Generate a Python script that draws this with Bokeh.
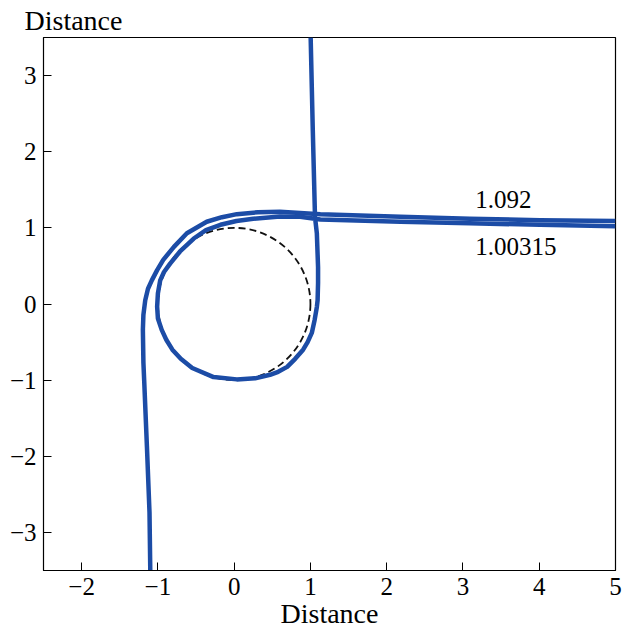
from bokeh.plotting import figure
from bokeh.models import FixedTicker, Label, Range1d
from bokeh.embed import file_html
from bokeh.resources import INLINE

# ---- data ----
x_ticks = [-2, -1, 0, 1, 2, 3, 4, 5]
y_ticks = [-3, -2, -1, 0, 1, 2, 3]
x_tick_labels = ["\u22122", "\u22121", "0", "1", "2", "3", "4", "5"]
y_tick_labels = ["\u22123", "\u22122", "\u22121", "0", "1", "2", "3"]

# trajectory with parameter 1.092 (comes up from below, leaves to the right)
outer_x = [-1.10, -1.11, -1.144, -1.18, -1.19, -1.197, -1.19, -1.166, -1.13, -1.08,
           -1.01, -0.93, -0.79, -0.62, -0.36, -0.16, 0.035, 0.31, 0.60, 1.13,
           2.18, 3.09, 4.01, 5.00]
outer_y = [-3.50, -2.74, -1.87, -1.00, -0.77, -0.34, -0.14, 0.05, 0.20, 0.31,
           0.445, 0.58, 0.75, 0.93, 1.08, 1.14, 1.18, 1.205, 1.21, 1.18,
           1.147, 1.12, 1.10, 1.09]

# trajectory with parameter 1.00315 (comes down from above, wraps the circle)
inner_x = [1.003, 1.031, 1.06, 1.084, 1.10, 1.10, 1.094, 1.084, 1.055, 1.018,
           0.963, 0.904, 0.80, 0.695, 0.577, 0.47, 0.275, 0.035, -0.27, -0.55,
           -0.70, -0.81, -0.89, -0.95, -1.00, -1.01, -1.00, -0.97, -0.92, -0.84,
           -0.71, -0.53, -0.37, -0.18, 0.03, 0.25, 0.60, 0.865, 1.13, 2.18,
           3.09, 4.01, 5.00]
inner_y = [3.50, 2.28, 1.14, 0.93, 0.485, 0.275, 0.05, -0.04, -0.21, -0.38,
           -0.50, -0.60, -0.72, -0.826, -0.89, -0.93, -0.976, -0.99, -0.96, -0.84,
           -0.72, -0.60, -0.47, -0.34, -0.19, -0.035, 0.14, 0.31, 0.42, 0.53,
           0.69, 0.86, 0.97, 1.04, 1.09, 1.12, 1.15, 1.147, 1.11, 1.08,
           1.06, 1.04, 1.02]

circle_x = [0.0]
circle_y = [0.0]
circle_d = [2.0]

labels = ["1.092", "1.00315"]

FONT = "Liberation Serif"
BLUE = "#1c4ca6"

p = figure(width=622, height=631, output_backend="svg",
           toolbar_location=None, x_range=Range1d(-2.5, 5), y_range=Range1d(-3.5, 3.5),
           min_border_left=43, min_border_right=7, min_border_top=37, min_border_bottom=0)

p.title.text = "Distance"
p.title.text_font = FONT
p.title.text_font_style = "normal"
p.title.text_font_size = "28px"
p.title.text_color = "black"
p.title.align = "left"
p.title.offset = -19
p.title.standoff = 4

p.xgrid.visible = False
p.ygrid.visible = False
p.outline_line_color = "black"
p.outline_line_width = 1.2
p.outline_line_alpha = 1

for ax in (p.xaxis[0], p.yaxis[0]):
    ax.major_tick_in = 8
    ax.major_tick_out = 0
    ax.minor_tick_line_color = None
    ax.major_tick_line_color = "black"
    ax.axis_line_color = "black"
    ax.major_label_text_font = FONT
    ax.major_label_text_font_size = "25px"
    ax.major_label_text_color = "black"
    ax.axis_label_text_font = FONT
    ax.axis_label_text_font_size = "28px"
    ax.axis_label_text_font_style = "normal"
    ax.axis_label_text_color = "black"

p.xaxis.ticker = FixedTicker(ticks=x_ticks)
p.yaxis.ticker = FixedTicker(ticks=y_ticks)
p.xaxis.major_label_overrides = {t: s for t, s in zip(x_ticks, x_tick_labels)}
p.yaxis.major_label_overrides = {t: s for t, s in zip(y_ticks, y_tick_labels)}
p.xaxis.axis_label = "Distance"
p.xaxis.major_label_standoff = 7
p.xaxis.axis_label_standoff = 0
p.yaxis.major_label_standoff = 7

p.ellipse(x=circle_x, y=circle_y, width=circle_d, height=circle_d,
          fill_color=None, line_color="#111111", line_width=1.8, line_dash="7 4")

p.line(outer_x, outer_y, line_color=BLUE, line_width=4.5, line_join="round")
p.line(inner_x, inner_y, line_color=BLUE, line_width=4.5, line_join="round")

p.add_layout(Label(x=3.16, y=1.375, text=labels[0], text_font=FONT,
                   text_font_size="25px", text_color="black",
                   text_baseline="alphabetic", text_align="left"))
p.add_layout(Label(x=3.16, y=0.755, text=labels[1], text_font=FONT,
                   text_font_size="25px", text_color="black",
                   text_baseline="alphabetic", text_align="left"))

open("out.html", "w").write(file_html(p, INLINE))
